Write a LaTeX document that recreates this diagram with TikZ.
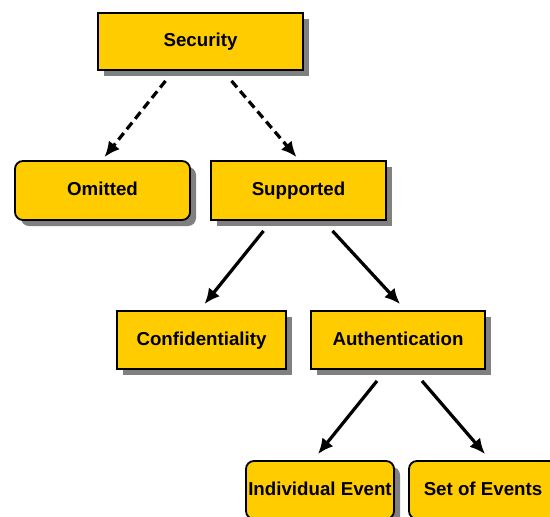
\documentclass[tikz,border=0pt]{standalone}
\usepackage{fontspec}
\setmainfont{Liberation Sans}
\usetikzlibrary{arrows.meta}
\usetikzlibrary{calc}
\usetikzlibrary{shadows}
\usepackage{xcolor}

\definecolor{boxyellow}{HTML}{FFCC00}
\newlength\px
\setlength\px{0.25mm}

\tikzset{
  box/.style={draw=black, line width=1.3pt, fill=boxyellow, inner sep=0pt,
    font=\fontsize{13.3}{15}\selectfont\bfseries, text height=0.72em, text depth=0pt,
    drop shadow={shadow xshift=6\px, shadow yshift=-6\px, fill=black!50, opacity=1}},
  roundbox/.style={box, rounded corners=8\px},
  link/.style={line width=2.3pt, -{Latex[length=11pt,width=10pt]}},
  maybe/.style={link, dash pattern=on 6pt off 3.5pt}
}

\begin{document}
\begin{tikzpicture}[x=0.025cm,y=-0.025cm]
      \useasboundingbox (0,0) rectangle (550,517);

      % Boxes
      \node[box, minimum width=205\px, minimum height=57\px] (sec) at (200.5,41.5) {Security};
      \node[roundbox, minimum width=175\px, minimum height=59\px] (omi) at (102.5,190.5) {Omitted};
      \node[box, minimum width=175\px, minimum height=59\px] (sup) at (298.5,190.5) {Supported};
      \node[box, minimum width=169\px, minimum height=58\px] (conf) at (201.5,340) {Confidentiality};
      \node[box, minimum width=174\px, minimum height=58\px] (auth) at (398,340) {Authentication};
      \node[roundbox, minimum width=148\px, minimum height=58\px] (ind) at (320,490) {Individual Event};
      \node[roundbox, minimum width=148\px, minimum height=58\px] (set) at (483,490) {Set of Events};

      % Dashed links
      \draw[maybe] ($(sec.south)+(-35,10)$) -- ($(omi.north)+(2,-3)$);
      \draw[maybe] ($(sec.south)+(31,10)$) -- ($(sup.north)+(-2,-3)$);

      % Solid links
      \draw[link] ($(sup.south)+(-35,10)$) -- ($(conf.north)+(3,-6)$);
      \draw[link] ($(sup.south)+(34,10)$) -- ($(auth.north)+(2,-6)$);
      \draw[link] ($(auth.south)+(-21,11)$) -- ($(ind.north)+(-2,-6)$);
      \draw[link] ($(auth.south)+(24,11)$) -- ($(set.north)+(2,-6)$);
  \end{tikzpicture}
\end{document}
